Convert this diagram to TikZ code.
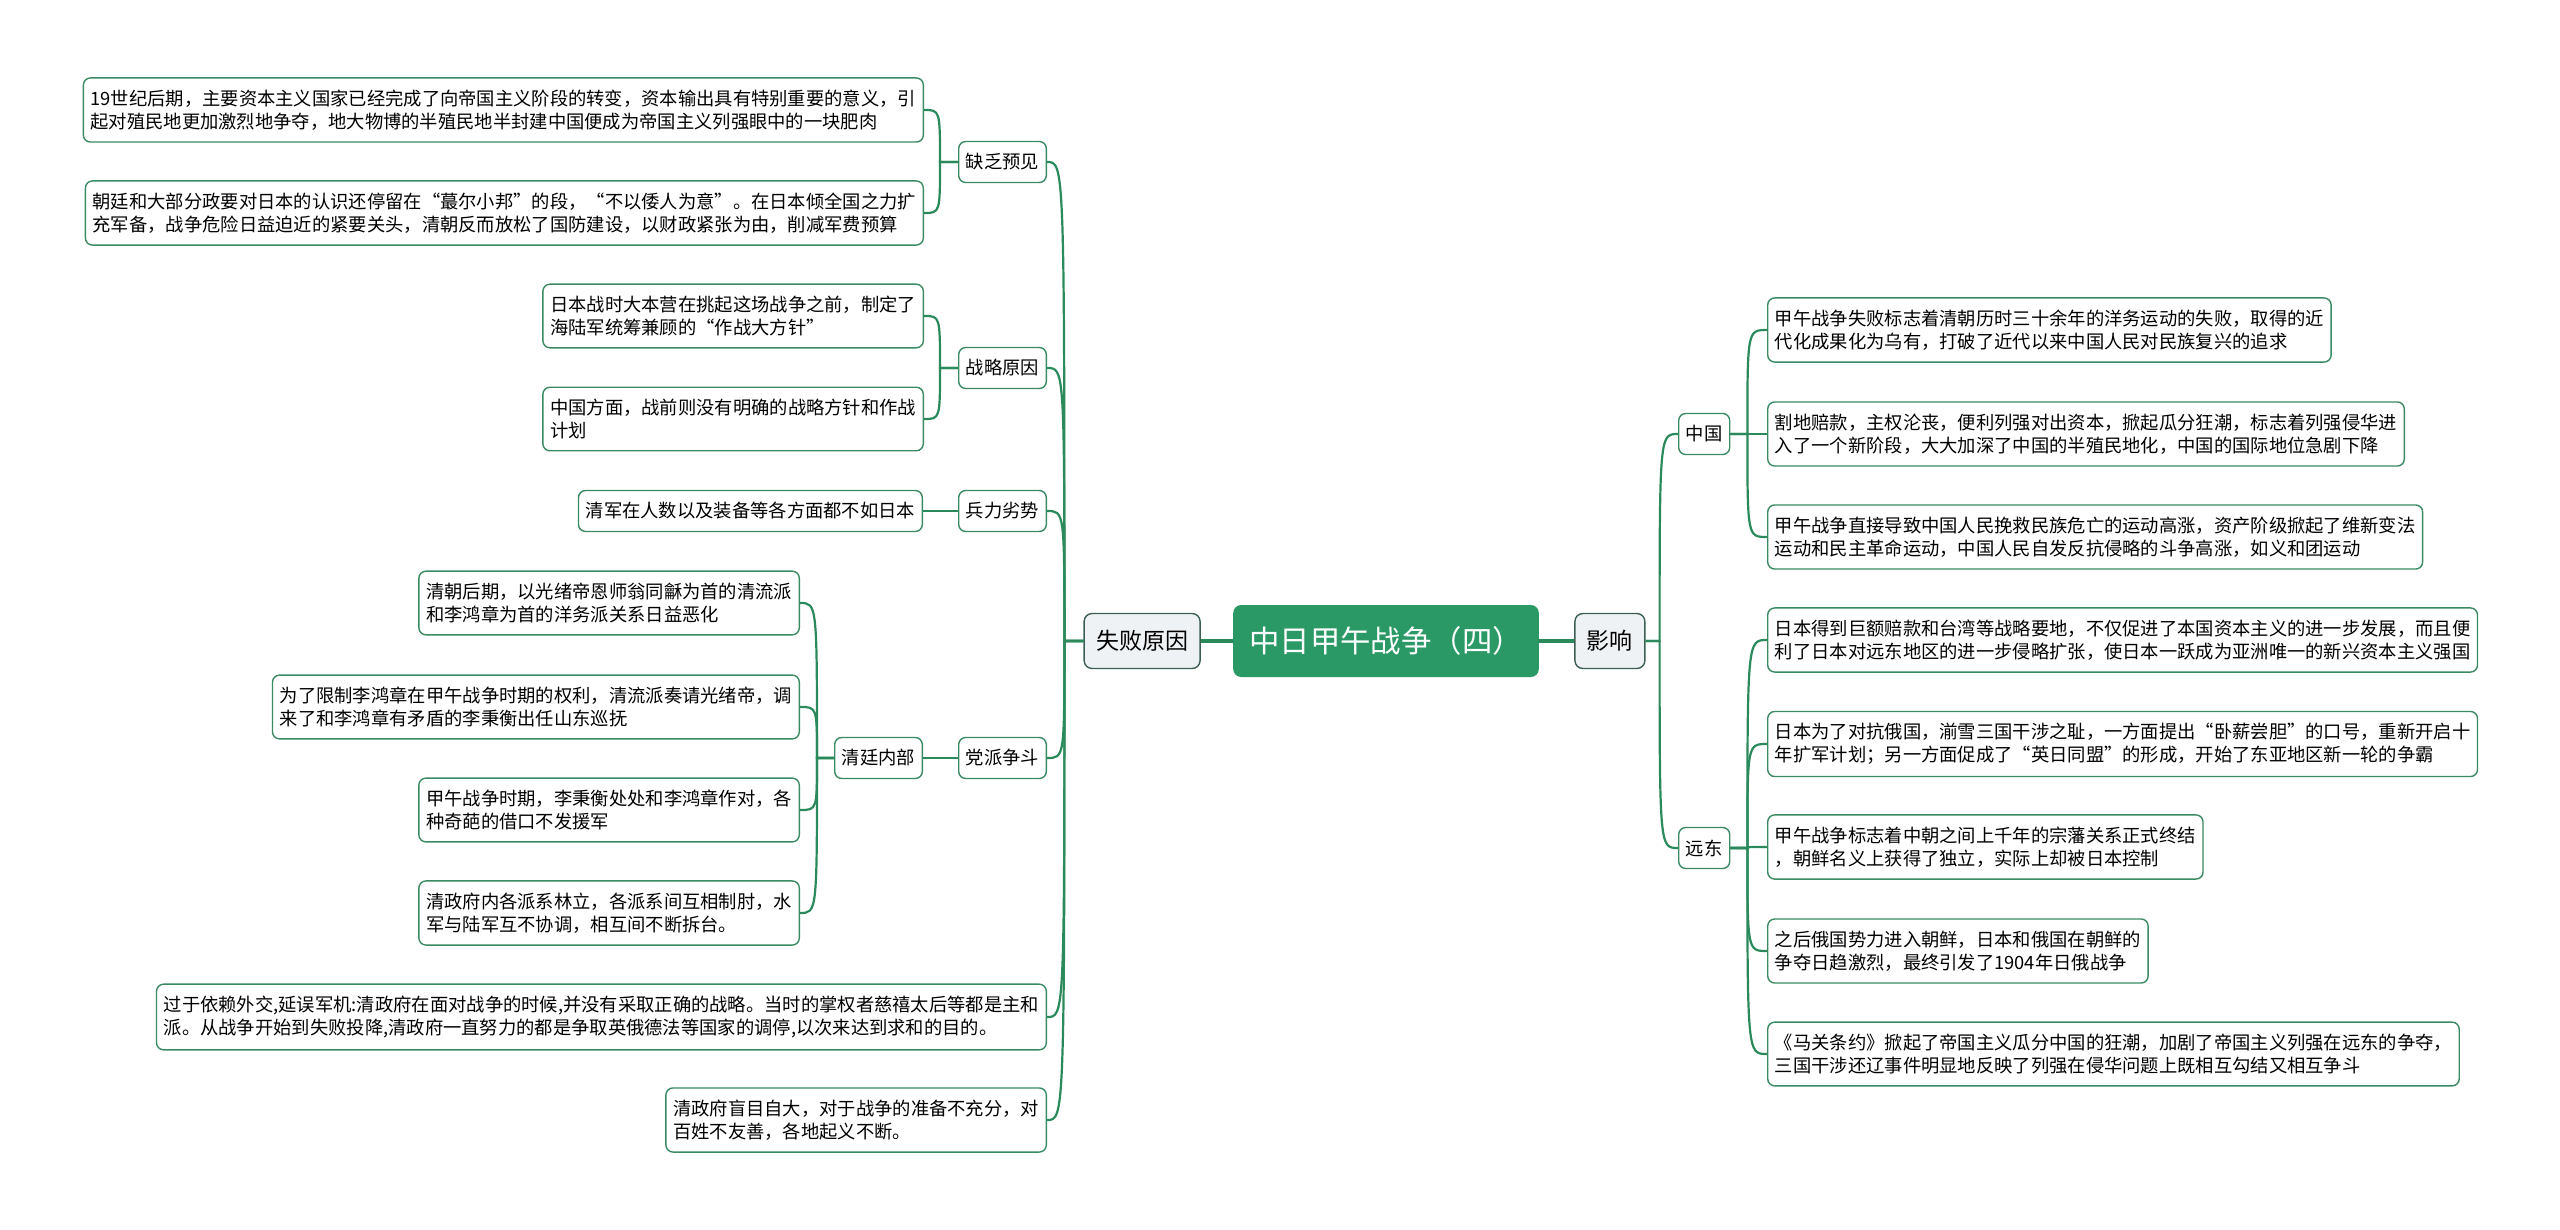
\documentclass[tikz,border=0pt]{standalone}
\usepackage{fontspec}
\setmainfont{Noto Sans CJK SC}
\usetikzlibrary{calc,positioning}
\definecolor{linegreen}{HTML}{2B8A5C}
\definecolor{rootgreen}{HTML}{2A9966}
\definecolor{leafedge}{HTML}{3A8B63}
\definecolor{mainedge}{HTML}{3B5F52}
\definecolor{mainfill}{HTML}{EEF2F4}

\begin{document}
\begin{tikzpicture}[
        x=0.5pt, y=-0.5pt,
        rootbox/.style={rectangle, rounded corners=4pt, fill=rootgreen, text=white, font=\fontsize{15.2}{18}\selectfont, inner xsep=8pt, minimum height=36pt},
        mainbox/.style={rectangle, rounded corners=4pt, draw=mainedge, line width=0.7pt, fill=mainfill, font=\fontsize{11.5}{14}\selectfont, inner xsep=6pt, minimum height=27.5pt},
        subbox/.style={rectangle, rounded corners=3.5pt, draw=leafedge, line width=0.7pt, fill=white, font=\fontsize{9.15}{11.5}\selectfont, inner xsep=3.6pt, minimum height=20.5pt},
        leafbox/.style={subbox, align=left, inner ysep=5.9pt},
        conn/.style={draw=linegreen, line width=1.1pt},
        trunk/.style={draw=linegreen, line width=1.6pt},
    ]
        \useasboundingbox (0,0) rectangle (2560,1230);
        \fill[white] (0,0) rectangle (2560,1230);

        % Center
        \node[rootbox] (war) at (1386,641) {中日甲午战争（四）};

        % Two main branches
        \node[mainbox, left=16pt of war] (fail) {失败原因};
        \node[mainbox, right=17.5pt of war] (effect) {影响};

        % Causes of the defeat
        \node[subbox, anchor=east] (foresight) at (1047,162) {缺乏预见};
        \node[subbox, anchor=east] (strategy) at (1047,368) {战略原因};
        \node[subbox, anchor=east] (forces) at (1047,511) {兵力劣势};
        \node[subbox, anchor=east] (faction) at (1047,758) {党派争斗};
        \node[leafbox, anchor=east] (diplomacy) at (1047,1017) {过于依赖外交,延误军机:清政府在面对战争的时候,并没有采取正确的战略。当时的掌权者慈禧太后等都是主和\\派。从战争开始到失败投降,清政府一直努力的都是争取英俄德法等国家的调停,以次来达到求和的目的。};
        \node[leafbox, anchor=east] (arrogance) at (1047,1120) {清政府盲目自大，对于战争的准备不充分，对\\百姓不友善，各地起义不断。};

        \node[leafbox, anchor=east] (fore1) at (924,110) {19世纪后期，主要资本主义国家已经完成了向帝国主义阶段的转变，资本输出具有特别重要的意义，引\\起对殖民地更加激烈地争夺，地大物博的半殖民地半封建中国便成为帝国主义列强眼中的一块肥肉};
        \node[leafbox, anchor=east] (fore2) at (924,213) {朝廷和大部分政要对日本的认识还停留在“蕞尔小邦”的段，“不以倭人为意”。在日本倾全国之力扩\\充军备，战争危险日益迫近的紧要关头，清朝反而放松了国防建设，以财政紧张为由，削减军费预算};
        \node[leafbox, anchor=east] (strat1) at (924,316) {日本战时大本营在挑起这场战争之前，制定了\\海陆军统筹兼顾的“作战大方针”};
        \node[leafbox, anchor=east] (strat2) at (924,419) {中国方面，战前则没有明确的战略方针和作战\\计划};
        \node[leafbox, left=17.5pt of forces] (force1) {清军在人数以及装备等各方面都不如日本};
        \node[subbox, left=17.5pt of faction] (court) {清廷内部};

        \node[leafbox, anchor=east] (court1) at (800,603) {清朝后期，以光绪帝恩师翁同龢为首的清流派\\和李鸿章为首的洋务派关系日益恶化};
        \node[leafbox, anchor=east] (court2) at (800,707) {为了限制李鸿章在甲午战争时期的权利，清流派奏请光绪帝，调\\来了和李鸿章有矛盾的李秉衡出任山东巡抚};
        \node[leafbox, anchor=east] (court3) at (800,810) {甲午战争时期，李秉衡处处和李鸿章作对，各\\种奇葩的借口不发援军};
        \node[leafbox, anchor=east] (court4) at (800,913) {清政府内各派系林立，各派系间互相制肘，水\\军与陆军互不协调，相互间不断拆台。};

        % Effects
        \node[subbox, anchor=west] (china) at (1678,434) {中国};
        \node[subbox, anchor=west] (fareast) at (1678,848) {远东};

        \node[leafbox, anchor=west] (china1) at (1767,330) {甲午战争失败标志着清朝历时三十余年的洋务运动的失败，取得的近\\代化成果化为乌有，打破了近代以来中国人民对民族复兴的追求};
        \node[leafbox, anchor=west] (china2) at (1767,434) {割地赔款，主权沦丧，便利列强对出资本，掀起瓜分狂潮，标志着列强侵华进\\入了一个新阶段，大大加深了中国的半殖民地化，中国的国际地位急剧下降};
        \node[leafbox, anchor=west] (china3) at (1767,537) {甲午战争直接导致中国人民挽救民族危亡的运动高涨，资产阶级掀起了维新变法\\运动和民主革命运动，中国人民自发反抗侵略的斗争高涨，如义和团运动};

        \node[leafbox, anchor=west] (far1) at (1767,640) {日本得到巨额赔款和台湾等战略要地，不仅促进了本国资本主义的进一步发展，而且便\\利了日本对远东地区的进一步侵略扩张，使日本一跃成为亚洲唯一的新兴资本主义强国};
        \node[leafbox, anchor=west] (far2) at (1767,744) {日本为了对抗俄国，湔雪三国干涉之耻，一方面提出“卧薪尝胆”的口号，重新开启十\\年扩军计划；另一方面促成了“英日同盟”的形成，开始了东亚地区新一轮的争霸};
        \node[leafbox, anchor=west] (far3) at (1767,847) {甲午战争标志着中朝之间上千年的宗藩关系正式终结\\，朝鲜名义上获得了独立，实际上却被日本控制};
        \node[leafbox, anchor=west] (far4) at (1767,951) {之后俄国势力进入朝鲜，日本和俄国在朝鲜的\\争夺日趋激烈，最终引发了1904年日俄战争};
        \node[leafbox, anchor=west] (far5) at (1767,1054) {《马关条约》掀起了帝国主义瓜分中国的狂潮，加剧了帝国主义列强在远东的争夺，\\三国干涉还辽事件明显地反映了列强在侵华问题上既相互勾结又相互争斗};

        % Junctions of the brackets
        \coordinate (jfail) at ($(fail.west)+(-19,0)$);
        \coordinate (jfore) at ($(foresight.west)+(-18,0)$);
        \coordinate (jstrat) at ($(strategy.west)+(-18,0)$);
        \coordinate (jcourt) at ($(court.west)+(-17,0)$);
        \coordinate (jeffect) at ($(effect.east)+(14,0)$);
        \coordinate (jchina) at ($(china.east)+(17,0)$);
        \coordinate (jfar) at ($(fareast.east)+(17,0)$);

        % Center to main branches
        \draw[trunk] (war) -- (fail);
        \draw[trunk] (war) -- (effect);

        % Causes
        \draw[conn] (fail.west) -- (jfail) .. controls (jfail |- foresight.east) .. (foresight.east);
        \draw[conn] (fail.west) -- (jfail) .. controls (jfail |- strategy.east) .. (strategy.east);
        \draw[conn] (fail.west) -- (jfail) .. controls (jfail |- forces.east) .. (forces.east);
        \draw[conn] (fail.west) -- (jfail) .. controls (jfail |- faction.east) .. (faction.east);
        \draw[conn] (fail.west) -- (jfail) .. controls (jfail |- diplomacy.east) .. (diplomacy.east);
        \draw[conn] (fail.west) -- (jfail) .. controls (jfail |- arrogance.east) .. (arrogance.east);

        \draw[conn] (foresight.west) -- (jfore) .. controls (jfore |- fore1.east) .. (fore1.east);
        \draw[conn] (foresight.west) -- (jfore) .. controls (jfore |- fore2.east) .. (fore2.east);
        \draw[conn] (strategy.west) -- (jstrat) .. controls (jstrat |- strat1.east) .. (strat1.east);
        \draw[conn] (strategy.west) -- (jstrat) .. controls (jstrat |- strat2.east) .. (strat2.east);
        \draw[conn] (forces) -- (force1);
        \draw[conn] (faction) -- (court);

        \draw[conn] (court.west) -- (jcourt) .. controls (jcourt |- court1.east) .. (court1.east);
        \draw[conn] (court.west) -- (jcourt) .. controls (jcourt |- court2.east) .. (court2.east);
        \draw[conn] (court.west) -- (jcourt) .. controls (jcourt |- court3.east) .. (court3.east);
        \draw[conn] (court.west) -- (jcourt) .. controls (jcourt |- court4.east) .. (court4.east);

        % Effects
        \draw[conn] (effect.east) -- (jeffect) .. controls (jeffect |- china.west) .. (china.west);
        \draw[conn] (effect.east) -- (jeffect) .. controls (jeffect |- fareast.west) .. (fareast.west);

        \draw[conn] (china.east) -- (jchina) .. controls (jchina |- china1.west) .. (china1.west);
        \draw[conn] (china.east) -- (jchina) .. controls (jchina |- china2.west) .. (china2.west);
        \draw[conn] (china.east) -- (jchina) .. controls (jchina |- china3.west) .. (china3.west);

        \draw[conn] (fareast.east) -- (jfar) .. controls (jfar |- far1.west) .. (far1.west);
        \draw[conn] (fareast.east) -- (jfar) .. controls (jfar |- far2.west) .. (far2.west);
        \draw[conn] (fareast.east) -- (jfar) .. controls (jfar |- far3.west) .. (far3.west);
        \draw[conn] (fareast.east) -- (jfar) .. controls (jfar |- far4.west) .. (far4.west);
        \draw[conn] (fareast.east) -- (jfar) .. controls (jfar |- far5.west) .. (far5.west);
    \end{tikzpicture}
\end{document}
